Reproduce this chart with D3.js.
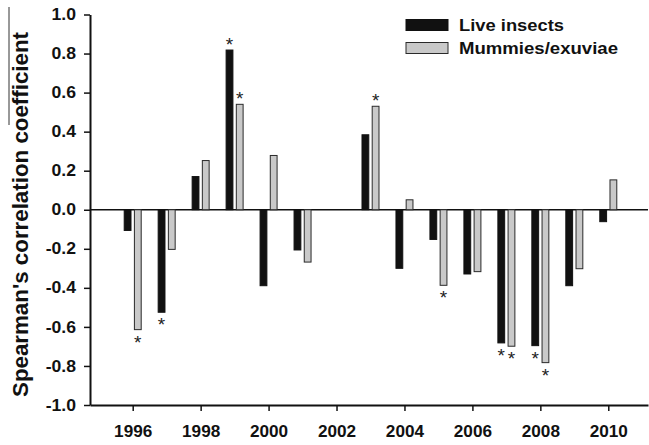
<!DOCTYPE html>
<html>
<head>
<meta charset="utf-8">
<script src="https://cdn.jsdelivr.net/npm/d3@7"></script>
<style>
  html, body { margin: 0; padding: 0; background: #fff; }
  svg { display: block; }
  text { font-family: "Liberation Sans", Arial, sans-serif; }
</style>
</head>
<body>
<svg id="chart" width="649" height="445"></svg>
<script>
// ---- data ----
const years = [1996, 1997, 1998, 1999, 2000, 2001, 2003, 2004, 2005, 2006, 2007, 2008, 2009, 2010];
const liveInsects = [-0.106, -0.525, 0.17, 0.818, -0.389, -0.206, 0.384, -0.30, -0.152, -0.329, -0.682, -0.696, -0.389, -0.061];
const mummiesExuviae = [-0.614, -0.203, 0.252, 0.54, 0.278, -0.268, 0.53, 0.051, -0.387, -0.317, -0.699, -0.783, -0.302, 0.153];
const liveSignificant = [1997, 1999, 2007, 2008];
const mummiesSignificant = [1996, 1999, 2003, 2005, 2007, 2008];
const seriesNames = ["Live insects", "Mummies/exuviae"];
const xTickYears = [1996, 1998, 2000, 2002, 2004, 2006, 2008, 2010];
const yTickValues = [-10, -8, -6, -4, -2, 0, 2, 4, 6, 8, 10].map(v => v / 10);
const yTitle = "Spearman's correlation coefficient";

const svg = d3.select("#chart");

const x = d3.scaleLinear().domain([1994.743, 2011.169]).range([90, 648]);
const y = d3.scaleLinear().domain([-1, 1]).range([405, 14.5]);
const sub = d3.scaleBand().domain(seriesNames).range([-8.5, 8.5]).paddingInner(0.333);

const colors = { "Live insects": "#111111", "Mummies/exuviae": "#c9c9c9" };
const strokes = { "Live insects": "#111111", "Mummies/exuviae": "#2a2a2a" };

function stretch(sel, factor) {
  sel.each(function () {
    const len = this.getComputedTextLength();
    d3.select(this).attr("textLength", len * factor).attr("lengthAdjust", "spacingAndGlyphs");
  });
}

// y axis
const yAxis = svg.append("g")
  .attr("transform", `translate(${x.range()[0]},0)`)
  .call(d3.axisLeft(y).tickValues(yTickValues).tickFormat(d => d.toFixed(1)).tickSize(6).tickPadding(8).tickSizeOuter(0));
yAxis.select(".domain").attr("stroke", "#111").attr("stroke-width", 2);
yAxis.selectAll(".tick line").attr("stroke", "#111").attr("stroke-width", 1.5);
yAxis.selectAll(".tick text")
  .attr("font-size", 16).attr("font-weight", "bold").attr("fill", "#111")
  .call(stretch, 1.1);

// x axis
const xAxis = svg.append("g")
  .attr("transform", `translate(0,${y(-1)})`)
  .call(d3.axisBottom(x).tickValues(xTickYears).tickFormat(d3.format("d")).tickSize(6).tickPadding(14).tickSizeOuter(0));
xAxis.select(".domain").attr("stroke", "#111").attr("stroke-width", 2);
xAxis.selectAll(".tick line").attr("stroke", "#111").attr("stroke-width", 1.5);
xAxis.selectAll(".tick text")
  .attr("font-size", 16.5).attr("font-weight", "bold").attr("fill", "#111")
  .call(stretch, 1.04);

// zero line
svg.append("line")
  .attr("x1", x.range()[0]).attr("x2", x.range()[1])
  .attr("y1", y(0)).attr("y2", y(0))
  .attr("stroke", "#111").attr("stroke-width", 1.5);

// bars
const rows = years.map((yr, i) => ({
  year: yr,
  values: [
    { name: seriesNames[0], value: liveInsects[i], sig: liveSignificant.includes(yr) },
    { name: seriesNames[1], value: mummiesExuviae[i], sig: mummiesSignificant.includes(yr) }
  ]
}));

const barData = rows.flatMap(r => r.values.map(v => ({ year: r.year, ...v })));

svg.append("g").selectAll("rect")
  .data(barData)
  .join("rect")
  .attr("x", d => x(d.year) + sub(d.name))
  .attr("width", sub.bandwidth())
  .attr("y", d => y(Math.max(0, d.value)))
  .attr("height", d => Math.abs(y(d.value) - y(0)))
  .attr("fill", d => colors[d.name])
  .attr("stroke", d => strokes[d.name])
  .attr("stroke-width", 1);

// significance stars
svg.append("g").selectAll("text")
  .data(barData.filter(d => d.sig))
  .join("text")
  .attr("x", d => x(d.year) + sub(d.name) + sub.bandwidth() / 2)
  .attr("y", d => d.value >= 0 ? y(d.value) + 1 : y(d.value) + 19)
  .attr("text-anchor", "middle")
  .attr("font-size", 19)
  .attr("fill", "#222")
  .text("*");

// y-axis title
svg.append("text")
  .attr("transform", `translate(28,${(32 + 397) / 2}) rotate(-90)`)
  .attr("text-anchor", "middle")
  .attr("font-size", 22).attr("font-weight", "bold").attr("fill", "#111")
  .attr("textLength", 365).attr("lengthAdjust", "spacingAndGlyphs")
  .text(yTitle);

// stray overline artifact from the original figure
svg.append("line")
  .attr("x1", 9).attr("x2", 9).attr("y1", 7).attr("y2", 125)
  .attr("stroke", "#333").attr("stroke-width", 1);

// legend
const legend = svg.append("g");
const legendRows = legend.selectAll("g")
  .data(seriesNames)
  .join("g")
  .attr("transform", (d, i) => `translate(406,${19.5 + i * 23})`);
legendRows.append("rect")
  .attr("width", 42).attr("height", 11)
  .attr("fill", d => colors[d]).attr("stroke", d => strokes[d]).attr("stroke-width", 1);
legendRows.append("text")
  .attr("x", 53).attr("y", 11.5)
  .attr("font-size", 17).attr("font-weight", "bold").attr("fill", "#111")
  .attr("textLength", (d, i) => [105, 159][i]).attr("lengthAdjust", "spacingAndGlyphs")
  .text(d => d);
</script>
</body>
</html>
